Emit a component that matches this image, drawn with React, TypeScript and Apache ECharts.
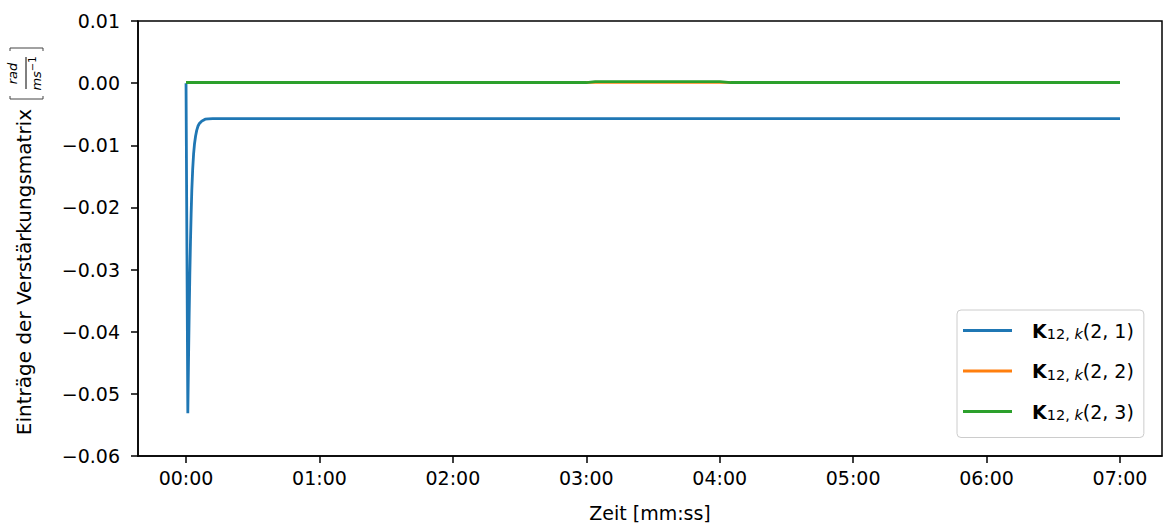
import React, { useEffect, useRef } from "react";
import * as echarts from "echarts";

// Time axis (seconds) and tick positions
const xTicks = [0, 60, 120, 180, 240, 300, 360, 420];
const yTicks = [-0.06, -0.05, -0.04, -0.03, -0.02, -0.01, 0.0, 0.01];

// K12,k(2,1): fast negative transient, then settles
const k21Time = [0, 0.8, 1.1, 1.4, 1.7, 2.0, 2.3, 2.6, 3.0, 3.4, 3.8, 4.3, 4.8, 5.4, 6.0, 6.8, 7.6, 8.6, 10, 12, 15, 60, 120, 180, 240, 300, 360, 420];
const k21Vals = [0, -0.0531, -0.045, -0.0375, -0.031, -0.0255, -0.021, -0.0172, -0.0138, -0.0114, -0.0098, -0.0085, -0.0076, -0.0069, -0.0065, -0.0062, -0.006, -0.0058, -0.00575, -0.0057, -0.0057, -0.0057, -0.0057, -0.0057, -0.0057, -0.0057, -0.0057, -0.0057];

// K12,k(2,2)
const k22Time = [0, 60, 120, 180, 240, 300, 360, 420];
const k22Vals = [0.0001, 0.0001, 0.0001, 0.00012, 0.00012, 0.0001, 0.0001, 0.0001];

// K12,k(2,3)
const k23Time = [0, 60, 120, 180, 184, 240, 245, 300, 360, 420];
const k23Vals = [0.0001, 0.0001, 0.0001, 0.0001, 0.00025, 0.00025, 0.0001, 0.0001, 0.0001, 0.0001];

const seriesNames = ["K(2, 1)", "K(2, 2)", "K(2, 3)"];
const seriesIdx = ["1", "2", "3"];
const colors = ["#1f77b4", "#ff7f0e", "#2ca02c"];

const FONT = "DejaVu Sans";
const FS = 19;

const pairs = (t: number[], v: number[]) => t.map((x, i) => [x, v[i]]);

const fmtTime = (s: number) => {
  const m = Math.floor(s / 60);
  const sec = Math.round(s - m * 60);
  return `${String(m).padStart(2, "0")}:${String(sec).padStart(2, "0")}`;
};

const fmtY = (v: number) => {
  const s = Math.abs(v).toFixed(2);
  return v < -1e-9 ? "\u2212" + s : s;
};

export default function App() {
  const ref = useRef<HTMLDivElement>(null);

  useEffect(() => {
    if (!ref.current) return;
    const chart = echarts.init(ref.current, null, { renderer: "svg" });

    const series = [
      [k21Time, k21Vals],
      [k22Time, k22Vals],
      [k23Time, k23Vals],
    ].map(([t, v], i) => ({
      name: seriesNames[i],
      type: "line",
      data: pairs(t as number[], v as number[]),
      showSymbol: false,
      symbol: "none",
      lineStyle: { color: colors[i], width: 2.8 },
      itemStyle: { color: colors[i] },
      z: 2 + i,
    }));

    chart.setOption({
      animation: false,
      textStyle: { fontFamily: FONT, color: "#000" },
      grid: {
        left: 138,
        top: 21,
        width: 1024,
        height: 435,
        show: true,
        borderColor: "#000",
        borderWidth: 1.5,
        backgroundColor: "transparent",
      },
      xAxis: {
        type: "value",
        min: -21.6,
        max: 438.9,
        splitLine: { show: false },
        axisLine: { show: true, onZero: false, lineStyle: { color: "#000", width: 1.5 } },
        axisTick: { show: true, customValues: xTicks, length: 7, lineStyle: { color: "#000", width: 1.5 } },
        axisLabel: {
          customValues: xTicks,
          formatter: (v: number) => fmtTime(v),
          fontSize: FS,
          color: "#000",
          margin: 12,
          fontFamily: FONT,
        },
        name: "Zeit [mm:ss]",
        nameLocation: "middle",
        nameGap: 47,
        nameTextStyle: { fontSize: FS, color: "#000", fontFamily: FONT },
      },
      yAxis: {
        type: "value",
        min: -0.06,
        max: 0.01,
        splitLine: { show: false },
        axisLine: { show: true, onZero: false, lineStyle: { color: "#000", width: 1.5 } },
        axisTick: { show: true, customValues: yTicks, length: 7, lineStyle: { color: "#000", width: 1.5 } },
        axisLabel: {
          customValues: yTicks,
          formatter: (v: number) => fmtY(v),
          fontSize: FS,
          color: "#000",
          margin: 18,
          fontFamily: FONT,
        },
      },
      legend: {
        orient: "vertical",
        left: 957,
        top: 310,
        padding: [11, 10, 15, 6],
        itemGap: 20,
        itemWidth: 49,
        itemHeight: 3,
        icon: "rect",
        backgroundColor: "rgba(255,255,255,0.8)",
        borderColor: "#cccccc",
        borderWidth: 1,
        borderRadius: 4,
        data: seriesNames.map((n, i) => ({ name: n, itemStyle: { color: colors[i] } })),
        formatter: (name: string) => {
          const i = seriesNames.indexOf(name);
          return `{k|K}{s|12, }{si|k}{t|(2, ${seriesIdx[i]})}`;
        },
        textStyle: {
          fontFamily: FONT,
          color: "#000",
          rich: {
            k: { fontSize: FS, fontWeight: "bold", fontFamily: FONT, lineHeight: 22, padding: [0, 0, 0, 15], color: "#000" },
            s: { fontSize: 14.5, fontFamily: FONT, lineHeight: 8, verticalAlign: "bottom", color: "#000" },
            si: { fontSize: 14.5, fontFamily: FONT, fontStyle: "italic", lineHeight: 8, verticalAlign: "bottom", color: "#000" },
            t: { fontSize: FS, fontFamily: FONT, lineHeight: 22, color: "#000" },
          },
        },
      },
      graphic: [
        {
          type: "group",
          x: 24,
          y: 240,
          rotation: Math.PI / 2,
          children: [
            {
              type: "text",
              x: 131,
              y: 0,
              style: {
                text: "Einträge der Verstärkungsmatrix",
                font: `20px "${FONT}"`,
                fill: "#000",
                align: "right",
                verticalAlign: "middle",
              },
            },
            {
              type: "polyline",
              shape: { points: [[144, -14], [141, -14], [141, 19], [144, 19]] },
              style: { stroke: "#444", lineWidth: 1, fill: "none" },
            },
            {
              type: "polyline",
              shape: { points: [[189, -14], [192, -14], [192, 19], [189, 19]] },
              style: { stroke: "#444", lineWidth: 1, fill: "none" },
            },
            {
              type: "text",
              x: 166.5,
              y: -5,
              style: {
                text: "rad",
                font: `italic 13px "${FONT}"`,
                fill: "#000",
                align: "center",
                verticalAlign: "bottom",
              },
            },
            {
              type: "line",
              shape: { x1: 151, y1: 2, x2: 183, y2: 2 },
              style: { stroke: "#000", lineWidth: 1 },
            },
            {
              type: "text",
              x: 166.5,
              y: 3,
              style: {
                text: "{m|ms}{e|\u22121}",
                align: "center",
                verticalAlign: "top",
                rich: {
                  m: { font: `italic 13px "${FONT}"`, fill: "#000", lineHeight: 16, verticalAlign: "bottom" },
                  e: { font: `10px "${FONT}"`, fill: "#000", lineHeight: 16, verticalAlign: "top" },
                },
              },
            },
          ],
        },
      ],
      series,
    });

    return () => chart.dispose();
  }, []);

  return (
    <div
      ref={ref}
      style={{ position: "absolute", left: 0, top: 0, width: 1163, height: 531, background: "#fff" }}
    />
  );
}
